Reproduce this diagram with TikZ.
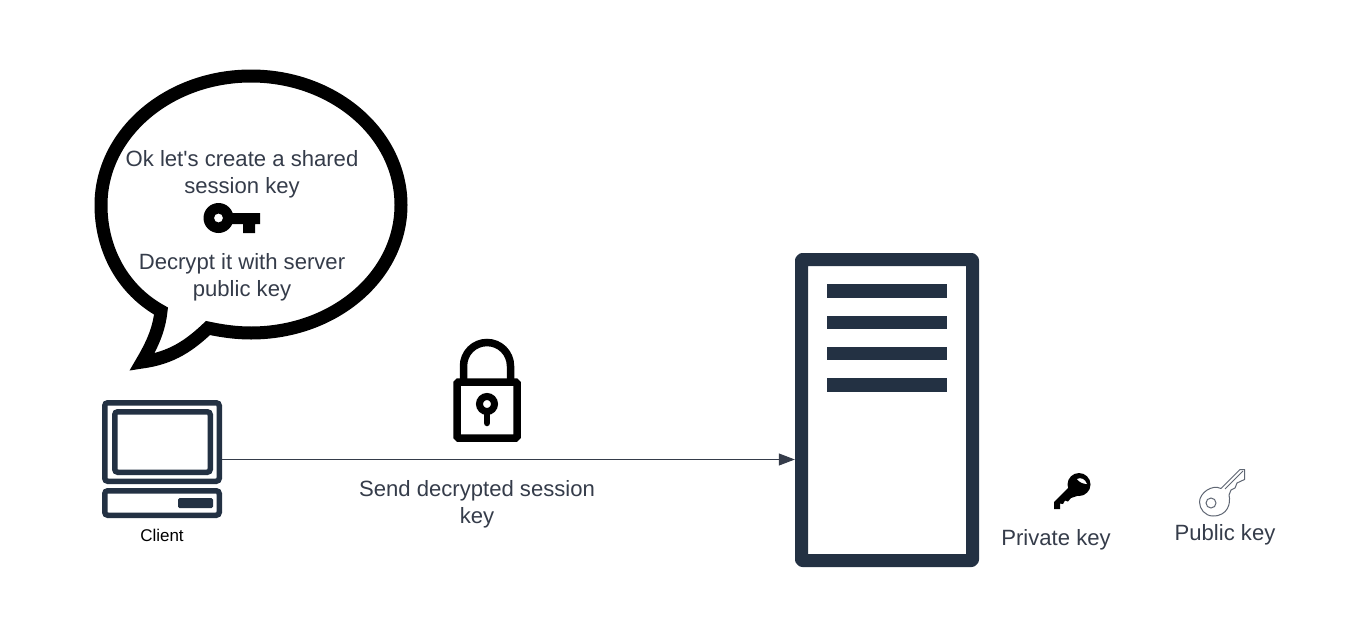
\documentclass[tikz,border=0pt]{standalone}
\usepackage{fontspec}
\setmainfont{Liberation Sans}
\usetikzlibrary{arrows.meta}
\definecolor{navy}{HTML}{233143}
\definecolor{txt}{HTML}{353C4A}
\definecolor{keyg}{HTML}{5F6673}
\tikzset{
  lbl/.style={text=txt,font=\fontsize{22.1}{26.7}\selectfont,align=center,inner sep=0pt},
  navyline/.style={draw=navy,rounded corners=3pt},
  bar/.style={fill=navy,draw=none},
  holder/.style={draw=none,fill=none,inner sep=0pt,minimum width=#1},
}
\begin{document}
\begin{tikzpicture}[x=1pt,y=-1pt,line join=miter]
\useasboundingbox (0,0) rectangle (1368,616);
\fill[white] (0,0) rectangle (1368,616);
% speech bubble
\draw[line width=13pt,black,miter limit=10]
  (161,311) .. controls (123,290) and (101,250) .. (101,205)
  .. controls (101,134) and (168,76) .. (251,76)
  .. controls (334,76) and (401,134) .. (401,205)
  .. controls (401,276) and (334,333) .. (251,333)
  .. controls (236,333) and (222,331) .. (208,328)
  .. controls (190,345) and (172,358) .. (142,362)
  .. controls (152,345) and (159,330) .. (161,311) -- cycle;
\node[lbl] (t1) at (242,174) {Ok let\textquotesingle s create a shared\\session key};
\node[lbl] (t2) at (242,277) {Decrypt it with server\\public key};
% session key
\fill[black] (226,213) rectangle (260,224) (243,224) rectangle (255,233);
\fill[black,even odd rule] (218.5,218) circle[radius=15] (218.5,218) circle[radius=4.5];
% client
\draw[navyline,line width=5.5pt] (104.75,402.75) rectangle (219.25,481.25);
\draw[navyline,line width=5.5pt] (114.75,411.75) rectangle (210.25,472.25);
\draw[navyline,line width=5.5pt] (104.75,490.75) rectangle (219.25,515.25);
\fill[navy,rounded corners=1.5pt] (178,498) rectangle (213,508);
\node[holder=120pt,minimum height=118pt] (client) at (162,459.5) {};
\node[text=black,font=\fontsize{17}{20}\selectfont,inner sep=0pt] (clientlbl) at (162,535) {Client};
% server
\draw[navyline,line width=13pt,rounded corners=1pt,line join=round] (801.5,259.5) rectangle (972.5,560.5);
\fill[bar] (827,284) rectangle (947,298);
\fill[bar] (827,316) rectangle (947,329);
\fill[bar] (827,347) rectangle (947,360);
\fill[bar] (827,378) rectangle (947,392);
\node[holder=184pt,minimum height=314pt] (server) at (887,410) {};
% connector
\draw[txt,line width=1pt,-{Triangle[length=16pt,width=12pt]}] (client.east |- 0,459.5) -- (server.west |- 0,459.5);
% lock
\draw[black,line width=7.5pt,rounded corners=1.5pt] (457,382) rectangle (517,438);
\draw[black,line width=7.5pt] (463.5,382) -- (463.5,366) arc[start angle=180,end angle=360,radius=23.5] -- (510.5,382);
\draw[black,line width=7pt] (487,404) circle[radius=7.5];
\draw[black,line width=6.5pt,line cap=round] (487,412) -- (487,423);
\node[lbl] (send) at (477,504) {Send decrypted session\\key};
% private key
\fill[black] (1079,484.5) circle[radius=11.5];
\fill[black] (1054,502) -- (1070,486) -- (1080,495) -- (1071,498) -- (1068,501.5) -- (1065,500.5) -- (1063,504) -- (1060,503.5) -- (1060,509) -- (1054,509) -- cycle;
\fill[white] (1077,479) .. controls (1081,477) and (1085,479) .. (1087,484) .. controls (1083,484) and (1079,482) .. (1077,479) -- cycle;
\node[lbl] (priv) at (1056,540) {Private key};
% public key
\draw[keyg,line width=1pt,line join=round]
  (1221,488.5) -- (1240,469.5) -- (1244.5,469.5) -- (1244.5,479.5) -- (1237,483) -- (1235,488) -- (1231,490) -- (1229,495)
  .. controls (1231,503) and (1228,516) .. (1213,516)
  .. controls (1205,516) and (1199.5,509) .. (1199.5,502)
  .. controls (1199.5,493) and (1212,484) .. (1221,488.5) -- cycle;
\draw[keyg,line width=1pt] (1211,503) circle[radius=5];
\draw[keyg,line width=1pt] (1225,489) -- (1243,471);
\node[lbl] (pub) at (1225,535) {Public key};
\end{tikzpicture}
\end{document}
